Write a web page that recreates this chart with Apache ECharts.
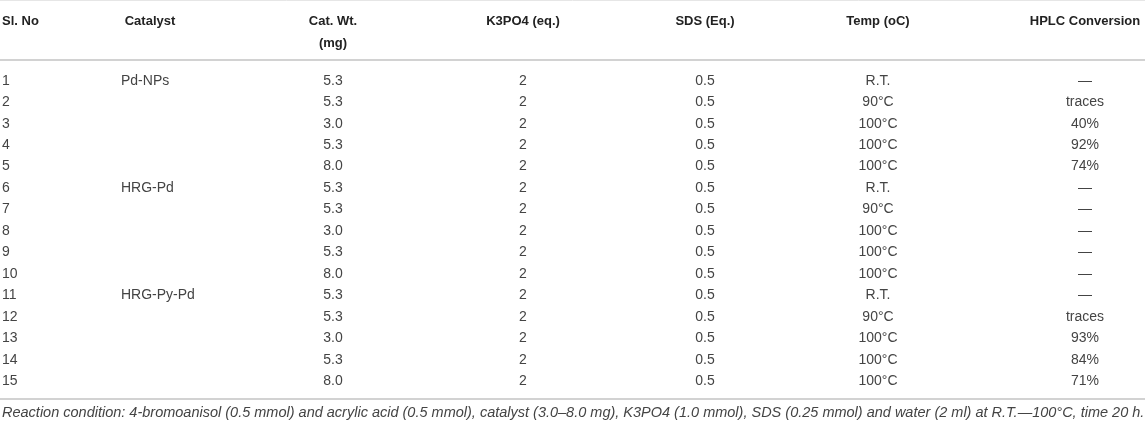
<!DOCTYPE html>
<html>
<head>
<meta charset="utf-8">
<title>Table</title>
<script src="https://cdn.jsdelivr.net/npm/echarts@6/dist/echarts.min.js"></script>
<style>
  html, body { margin: 0; padding: 0; background: #fff; }
  #chart { width: 1145px; height: 425px; }
</style>
</head>
<body>
<div id="chart"></div>
<script>
// table data, one array per column
var slNo = ['1', '2', '3', '4', '5', '6', '7', '8', '9', '10', '11', '12', '13', '14', '15'];
var catalyst = ['Pd-NPs', '', '', '', '', 'HRG-Pd', '', '', '', '', 'HRG-Py-Pd', '', '', '', ''];
var catWt = ['5.3', '5.3', '3.0', '5.3', '8.0', '5.3', '5.3', '3.0', '5.3', '8.0', '5.3', '5.3', '3.0', '5.3', '8.0'];
var k3po4 = ['2', '2', '2', '2', '2', '2', '2', '2', '2', '2', '2', '2', '2', '2', '2'];
var sds = ['0.5', '0.5', '0.5', '0.5', '0.5', '0.5', '0.5', '0.5', '0.5', '0.5', '0.5', '0.5', '0.5', '0.5', '0.5'];
var temp = ['R.T.', '90°C', '100°C', '100°C', '100°C', 'R.T.', '90°C', '100°C', '100°C', '100°C', 'R.T.', '90°C', '100°C', '100°C', '100°C'];
var hplc = ['—', 'traces', '40%', '92%', '74%', '—', '—', '—', '—', '—', '—', 'traces', '93%', '84%', '71%'];

var headers = [['Sl. No'], ['Catalyst'], ['Cat. Wt.', '(mg)'], ['K3PO4 (eq.)'], ['SDS (Eq.)'], ['Temp (oC)'], ['HPLC Conversion']];
var footnote = 'Reaction condition: 4-bromoanisol (0.5 mmol) and acrylic acid (0.5 mmol), catalyst (3.0–8.0 mg), K3PO4 (1.0 mmol), SDS (0.25 mmol) and water (2 ml) at R.T.—100°C, time 20 h.';

var columns = [slNo, catalyst, catWt, k3po4, sds, temp, hplc];

// layout of the columns (x on a 0..1145 value axis)
var colX = [2, 121, 333, 523, 705, 878, 1085];
var headX = [2, 150, 333, 523, 705, 878, 1085];
var colAlign = ['left', 'left', 'center', 'center', 'center', 'center', 'center'];
var headAlign = ['left', 'center', 'center', 'center', 'center', 'center', 'center'];

var FONT = '"Liberation Sans", Arial, sans-serif';
var bodyColor = '#444';
var lineColor = '#d2d2d2';

var chart = echarts.init(document.getElementById('chart'));

// header texts and horizontal rules
var graphics = [];
for (var h = 0; h < headers.length; h++) {
    for (var k = 0; k < headers[h].length; k++) {
        graphics.push({
            type: 'text',
            x: headX[h],
            y: 21 + k * 22,
            style: {
                text: headers[h][k],
                fontFamily: FONT,
                fontSize: 13,
                fontWeight: 'bold',
                fill: '#222',
                align: headAlign[h],
                textAlign: headAlign[h],
                verticalAlign: 'middle',
                textVerticalAlign: 'middle'
            }
        });
    }
}
graphics.push({ type: 'line', shape: { x1: 0, y1: 0.5, x2: 1145, y2: 0.5 }, style: { stroke: '#e6e6e6', lineWidth: 1 } });
graphics.push({ type: 'line', shape: { x1: 0, y1: 60, x2: 1145, y2: 60 }, style: { stroke: lineColor, lineWidth: 2 } });
graphics.push({ type: 'line', shape: { x1: 0, y1: 399, x2: 1145, y2: 399 }, style: { stroke: lineColor, lineWidth: 2 } });
graphics.push({
    type: 'text',
    x: 2,
    y: 413,
    style: {
        text: footnote,
        fontFamily: FONT,
        fontSize: 14.5,
        fontStyle: 'italic',
        fill: bodyColor,
        align: 'left',
        textAlign: 'left',
        verticalAlign: 'middle',
        textVerticalAlign: 'middle'
    }
});

var option = {
    animation: false,
    grid: { left: 0, right: 0, top: 70, height: 322 },
    xAxis: { type: 'value', min: 0, max: 1145, show: false },
    yAxis: { type: 'category', data: slNo, inverse: true, show: false },
    graphic: graphics,
    series: [{
        type: 'custom',
        data: slNo.map(function (v, i) { return [0, i]; }),
        renderItem: function (params, api) {
            var row = api.value(1);
            var y = api.coord([0, row])[1];
            var cells = [];
            for (var c = 0; c < columns.length; c++) {
                cells.push({
                    type: 'text',
                    x: api.coord([colX[c], row])[0],
                    y: y,
                    style: {
                        text: columns[c][row],
                        fontFamily: FONT,
                        fontSize: 14,
                        fill: bodyColor,
                        align: colAlign[c],
                        textAlign: colAlign[c],
                        verticalAlign: 'middle',
                        textVerticalAlign: 'middle'
                    }
                });
            }
            return { type: 'group', children: cells };
        }
    }]
};
chart.setOption(option);
</script>
</body>
</html>
